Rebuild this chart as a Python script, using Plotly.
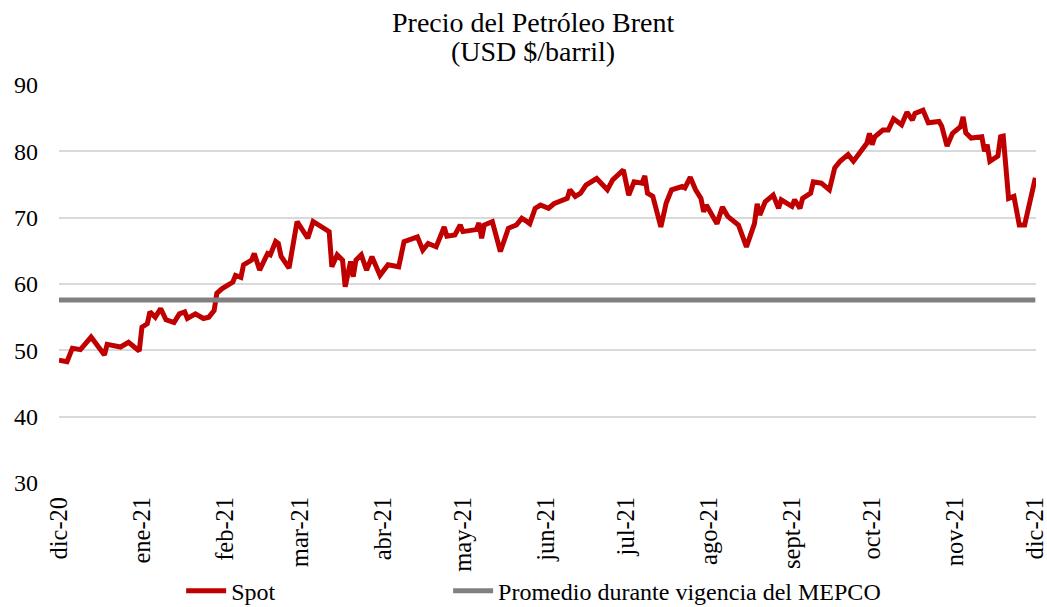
import plotly.graph_objects as go

dates = [
    "2020-12-01", "2020-12-04", "2020-12-06", "2020-12-09", "2020-12-13", "2020-12-18",
    "2020-12-19", "2020-12-24", "2020-12-27", "2020-12-31", "2021-01-01", "2021-01-03",
    "2021-01-04", "2021-01-06", "2021-01-08", "2021-01-10", "2021-01-13", "2021-01-15",
    "2021-01-17", "2021-01-18", "2021-01-21", "2021-01-24", "2021-01-26", "2021-01-28",
    "2021-01-29", "2021-01-31", "2021-02-04", "2021-02-05", "2021-02-07", "2021-02-08",
    "2021-02-11", "2021-02-12", "2021-02-14", "2021-02-17", "2021-02-18", "2021-02-20",
    "2021-02-21", "2021-02-22", "2021-02-25", "2021-02-28", "2021-03-04", "2021-03-06",
    "2021-03-08", "2021-03-12", "2021-03-13", "2021-03-15", "2021-03-17", "2021-03-18",
    "2021-03-20", "2021-03-21", "2021-03-22", "2021-03-24", "2021-03-26", "2021-03-28",
    "2021-03-31", "2021-04-03", "2021-04-07", "2021-04-09", "2021-04-14", "2021-04-16",
    "2021-04-18", "2021-04-21", "2021-04-24", "2021-04-25", "2021-04-28", "2021-04-30",
    "2021-05-01", "2021-05-06", "2021-05-07", "2021-05-08", "2021-05-09", "2021-05-12",
    "2021-05-15", "2021-05-18", "2021-05-21", "2021-05-23", "2021-05-25", "2021-05-26",
    "2021-05-28", "2021-05-30", "2021-06-02", "2021-06-04", "2021-06-09", "2021-06-10",
    "2021-06-12", "2021-06-14", "2021-06-16", "2021-06-20", "2021-06-24", "2021-06-26",
    "2021-06-30", "2021-07-02", "2021-07-04", "2021-07-07", "2021-07-08", "2021-07-09",
    "2021-07-11", "2021-07-14", "2021-07-16", "2021-07-18", "2021-07-22", "2021-07-23",
    "2021-07-25", "2021-07-27", "2021-07-29", "2021-07-30", "2021-07-31", "2021-08-04",
    "2021-08-06", "2021-08-08", "2021-08-12", "2021-08-15", "2021-08-18", "2021-08-19",
    "2021-08-20", "2021-08-22", "2021-08-25", "2021-08-27", "2021-08-28", "2021-08-30",
    "2021-09-01", "2021-09-02", "2021-09-04", "2021-09-05", "2021-09-08", "2021-09-09",
    "2021-09-12", "2021-09-15", "2021-09-17", "2021-09-19", "2021-09-22", "2021-09-24",
    "2021-09-27", "2021-09-29", "2021-09-30", "2021-10-01", "2021-10-02", "2021-10-05",
    "2021-10-07", "2021-10-09", "2021-10-12", "2021-10-14", "2021-10-16", "2021-10-17",
    "2021-10-20", "2021-10-22", "2021-10-26", "2021-10-27", "2021-10-29", "2021-10-31",
    "2021-11-03", "2021-11-04", "2021-11-05", "2021-11-07", "2021-11-11", "2021-11-12",
    "2021-11-13", "2021-11-14", "2021-11-17", "2021-11-18", "2021-11-19", "2021-11-21",
    "2021-11-23", "2021-11-25", "2021-11-27", "2021-12-01",
]

spot = [
    48.5, 48.3, 50.3, 50.1, 52.0, 49.3,
    50.9, 50.5, 51.2, 49.9, 53.5, 54.0,
    55.8, 55.0, 56.3, 54.6, 54.2, 55.5,
    55.8, 54.8, 55.5, 54.8, 55.0, 56.0,
    58.6, 59.3, 60.3, 61.3, 61.0, 62.9,
    63.6, 64.6, 62.1, 64.6, 64.4, 66.4,
    66.1, 64.2, 62.4, 69.4, 66.9, 69.4,
    68.9, 67.9, 62.6, 64.4, 63.6, 59.6,
    63.4, 61.1, 63.6, 64.4, 62.1, 64.1,
    61.3, 62.9, 62.6, 66.4, 67.1, 65.1,
    66.1, 65.6, 68.6, 67.2, 67.4, 68.9,
    67.9, 68.2, 69.2, 66.9, 68.9, 69.4,
    64.9, 68.4, 68.9, 69.9, 69.4, 69.1,
    71.4, 71.9, 71.4, 72.1, 72.9, 74.2,
    73.2, 73.7, 74.9, 75.9, 74.2, 75.7,
    77.2, 73.4, 75.4, 75.2, 76.3, 73.7,
    73.2, 68.6, 72.2, 74.2, 74.7, 74.5,
    76.1, 74.2, 72.9, 70.9, 71.9, 69.1,
    71.6, 70.2, 68.9, 65.6, 69.1, 72.1,
    70.4, 72.4, 73.4, 71.4, 72.7, 72.2,
    71.7, 72.7, 71.4, 72.9, 73.7, 75.4,
    75.2, 74.2, 77.5, 78.5, 79.5, 78.5,
    80.2, 81.2, 82.7, 81.0, 82.2, 83.2,
    83.2, 84.9, 84.0, 85.9, 84.7, 85.7,
    86.2, 84.3, 84.5, 83.8, 80.8, 82.7,
    83.7, 85.2, 82.8, 82.0, 82.2, 80.0,
    81.0, 78.5, 79.3, 82.2, 82.3, 72.9,
    73.2, 68.9, 68.9, 76.0,
]

mepco_avg = 57.6

tick_dates = [
    "2020-12-01", "2021-01-01", "2021-02-01", "2021-03-01", "2021-04-01", "2021-05-01",
    "2021-06-01", "2021-07-01", "2021-08-01", "2021-09-01", "2021-10-01", "2021-11-01",
    "2021-12-01",
]
tick_labels = [
    "dic-20", "ene-21", "feb-21", "mar-21", "abr-21", "may-21", "jun-21", "jul-21",
    "ago-21", "sept-21", "oct-21", "nov-21", "dic-21",
]

y_ticks = [30, 40, 50, 60, 70, 80, 90]

title_lines = ["Precio del Petróleo Brent", "(USD $/barril)"]

FONT = "Liberation Serif"

fig = go.Figure()
fig.add_trace(go.Scatter(
    x=dates, y=spot, mode="lines", name="Spot",
    line=dict(color="#C00000", width=5), legend="legend",
))
fig.add_trace(go.Scatter(
    x=[dates[0], dates[-1]], y=[mepco_avg, mepco_avg], mode="lines",
    name="Promedio durante vigencia del MEPCO",
    line=dict(color="#808080", width=5), legend="legend2",
))

legend_common = dict(
    orientation="h", xanchor="left", xref="container",
    y=0.026, yanchor="middle", yref="container",
    font=dict(family=FONT, size=24, color="#000000"),
    itemwidth=40, bgcolor="rgba(0,0,0,0)",
)

fig.update_layout(
    width=1047, height=607,
    paper_bgcolor="white", plot_bgcolor="white",
    font=dict(family=FONT, color="#000000", size=24),
    margin=dict(l=59, r=11, t=85, b=124),
    showlegend=True,
    legend=dict(x=0.173, **legend_common),
    legend2=dict(x=0.428, **legend_common),
    xaxis=dict(
        type="date",
        range=["2020-12-01", "2021-12-01 06:00"],
        tickmode="array", tickvals=tick_dates, ticktext=tick_labels,
        tickangle=-90, showgrid=False, zeroline=False, showline=False,
        ticks="", automargin=False, ticklabeloverflow="allow",
        ticklabelstandoff=8,
        tickfont=dict(family=FONT, size=24.5, color="#000000"),
    ),
    yaxis=dict(
        range=[30, 90], tickmode="array", tickvals=y_ticks,
        showgrid=True, gridcolor="#D9D9D9", gridwidth=1.5,
        zeroline=False, showline=False, ticks="", automargin=False,
        tickfont=dict(family=FONT, size=24, color="#000000"),
        ticklabelstandoff=20,
    ),
    annotations=[
        dict(text=title_lines[0], x=0.485, y=1.158, xref="paper", yref="paper",
             xanchor="center", yanchor="middle", showarrow=False,
             font=dict(family=FONT, size=28, color="#000000")),
        dict(text=title_lines[1], x=0.485, y=1.083, xref="paper", yref="paper",
             xanchor="center", yanchor="middle", showarrow=False,
             font=dict(family=FONT, size=28, color="#000000")),
    ],
)

fig.write_html(
    "out.html",
    config={"displayModeBar": False},
    post_script="document.body.style.margin='0';",
)
